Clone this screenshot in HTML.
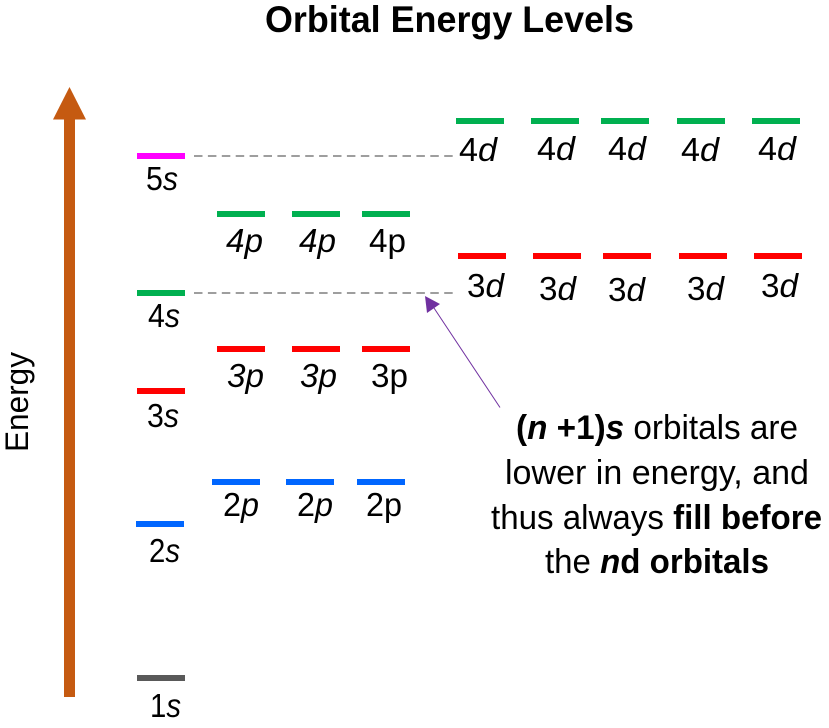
<!DOCTYPE html>
<html>
<head>
<meta charset="utf-8">
<style>
html,body{margin:0;padding:0;background:#fff;width:829px;height:728px;overflow:hidden}
svg{display:block}
text{font-family:"Liberation Sans",sans-serif;fill:#000}
.l{font-size:33px}
.n{font-size:34px}
.it{font-style:italic}
.b{font-weight:bold}
</style>
</head>
<body>
<svg width="829" height="728" viewBox="0 0 829 728" xmlns="http://www.w3.org/2000/svg">
<rect width="829" height="728" fill="#fff"/>

<text x="265" y="32" class="b" font-size="37" textLength="369" lengthAdjust="spacingAndGlyphs">Orbital Energy Levels</text>

<!-- energy arrow -->
<rect x="64" y="115" width="11" height="582" fill="#C55A11"/>
<polygon points="69.5,87 86,119.5 53,119.5" fill="#C55A11"/>
<text transform="translate(28,452) rotate(-90)" font-size="32" textLength="100" lengthAdjust="spacingAndGlyphs">Energy</text>

<!-- dashed -->
<line x1="194" y1="156" x2="453" y2="156" stroke="#7f7f7f" stroke-width="1.5" stroke-dasharray="8.5 5.4"/>
<line x1="194" y1="293" x2="453" y2="293" stroke="#7f7f7f" stroke-width="1.5" stroke-dasharray="8.5 5.4"/>

<!-- s bars -->
<rect x="137" y="153" width="48" height="6" fill="#FF00FF"/>
<rect x="137" y="290" width="48" height="6" fill="#00B050"/>
<rect x="137" y="388" width="48" height="6" fill="#FF0000"/>
<rect x="136" y="521" width="48" height="6" fill="#0066FF"/>
<rect x="137" y="675" width="48" height="6" fill="#595959"/>

<!-- p bars -->
<rect x="217" y="211" width="48" height="6" fill="#00B050"/>
<rect x="292" y="211" width="48" height="6" fill="#00B050"/>
<rect x="362" y="211" width="48" height="6" fill="#00B050"/>
<rect x="217" y="346" width="48" height="6" fill="#FF0000"/>
<rect x="292" y="346" width="48" height="6" fill="#FF0000"/>
<rect x="362" y="346" width="48" height="6" fill="#FF0000"/>
<rect x="212" y="479" width="48" height="6" fill="#0066FF"/>
<rect x="286" y="479" width="48" height="6" fill="#0066FF"/>
<rect x="357" y="479" width="48" height="6" fill="#0066FF"/>

<!-- d bars -->
<rect x="456" y="118" width="48" height="6" fill="#00B050"/>
<rect x="531" y="118" width="48" height="6" fill="#00B050"/>
<rect x="601" y="118" width="48" height="6" fill="#00B050"/>
<rect x="677" y="118" width="48" height="6" fill="#00B050"/>
<rect x="752" y="118" width="48" height="6" fill="#00B050"/>
<rect x="458" y="253" width="48" height="6" fill="#FF0000"/>
<rect x="533" y="253" width="48" height="6" fill="#FF0000"/>
<rect x="603" y="253" width="48" height="6" fill="#FF0000"/>
<rect x="679" y="253" width="48" height="6" fill="#FF0000"/>
<rect x="754" y="253" width="48" height="6" fill="#FF0000"/>

<!-- s labels -->
<text class="l" x="146" y="190" textLength="32" lengthAdjust="spacingAndGlyphs">5<tspan class="it">s</tspan></text>
<text class="l" x="148" y="327" textLength="32" lengthAdjust="spacingAndGlyphs">4<tspan class="it">s</tspan></text>
<text class="l" x="147" y="427" textLength="32" lengthAdjust="spacingAndGlyphs">3<tspan class="it">s</tspan></text>
<text class="l" x="149" y="562" textLength="31" lengthAdjust="spacingAndGlyphs">2<tspan class="it">s</tspan></text>
<text class="l" x="150" y="717" textLength="31" lengthAdjust="spacingAndGlyphs">1<tspan class="it">s</tspan></text>

<!-- p labels -->
<text class="l it" x="226" y="252" textLength="37" lengthAdjust="spacingAndGlyphs">4p</text>
<text class="l it" x="299" y="252" textLength="37" lengthAdjust="spacingAndGlyphs">4p</text>
<text class="l" x="369" y="252" textLength="37" lengthAdjust="spacingAndGlyphs">4p</text>
<text class="l it" x="227" y="387" textLength="37" lengthAdjust="spacingAndGlyphs">3p</text>
<text class="l it" x="300" y="387" textLength="37" lengthAdjust="spacingAndGlyphs">3p</text>
<text class="l" x="371" y="387" textLength="37" lengthAdjust="spacingAndGlyphs">3p</text>
<text class="l" x="223" y="516" textLength="36" lengthAdjust="spacingAndGlyphs">2<tspan class="it">p</tspan></text>
<text class="l" x="297" y="516" textLength="36" lengthAdjust="spacingAndGlyphs">2<tspan class="it">p</tspan></text>
<text class="l" x="366" y="516" textLength="36" lengthAdjust="spacingAndGlyphs">2p</text>

<!-- d labels -->
<text class="l" x="459" y="161" textLength="38" lengthAdjust="spacingAndGlyphs">4<tspan class="it">d</tspan></text>
<text class="l" x="537" y="160" textLength="38" lengthAdjust="spacingAndGlyphs">4<tspan class="it">d</tspan></text>
<text class="l" x="608" y="160" textLength="38" lengthAdjust="spacingAndGlyphs">4<tspan class="it">d</tspan></text>
<text class="l" x="681" y="161" textLength="38" lengthAdjust="spacingAndGlyphs">4<tspan class="it">d</tspan></text>
<text class="l" x="758" y="160" textLength="38" lengthAdjust="spacingAndGlyphs">4<tspan class="it">d</tspan></text>
<text class="l" x="467" y="297" textLength="37" lengthAdjust="spacingAndGlyphs">3<tspan class="it">d</tspan></text>
<text class="l" x="539" y="300" textLength="37" lengthAdjust="spacingAndGlyphs">3<tspan class="it">d</tspan></text>
<text class="l" x="608" y="301" textLength="37" lengthAdjust="spacingAndGlyphs">3<tspan class="it">d</tspan></text>
<text class="l" x="687" y="300" textLength="37" lengthAdjust="spacingAndGlyphs">3<tspan class="it">d</tspan></text>
<text class="l" x="761" y="297" textLength="37" lengthAdjust="spacingAndGlyphs">3<tspan class="it">d</tspan></text>

<!-- callout arrow -->
<line x1="500" y1="407.5" x2="432" y2="305" stroke="#7030A0" stroke-width="1"/>
<polygon points="425,296 440,304 427,313" fill="#7030A0"/>

<!-- callout text -->
<text class="n" x="516" y="439" textLength="282" lengthAdjust="spacingAndGlyphs"><tspan class="b">(<tspan class="it">n</tspan> +1)<tspan class="it">s</tspan></tspan> orbitals are</text>
<text class="n" x="505" y="484" textLength="304" lengthAdjust="spacingAndGlyphs">lower in energy, and</text>
<text class="n" x="491" y="529" textLength="331" lengthAdjust="spacingAndGlyphs">thus always <tspan class="b">fill before</tspan></text>
<text class="n" x="545" y="573" textLength="224" lengthAdjust="spacingAndGlyphs">the <tspan class="b"><tspan class="it">n</tspan>d orbitals</tspan></text>
</svg>
</body>
</html>
